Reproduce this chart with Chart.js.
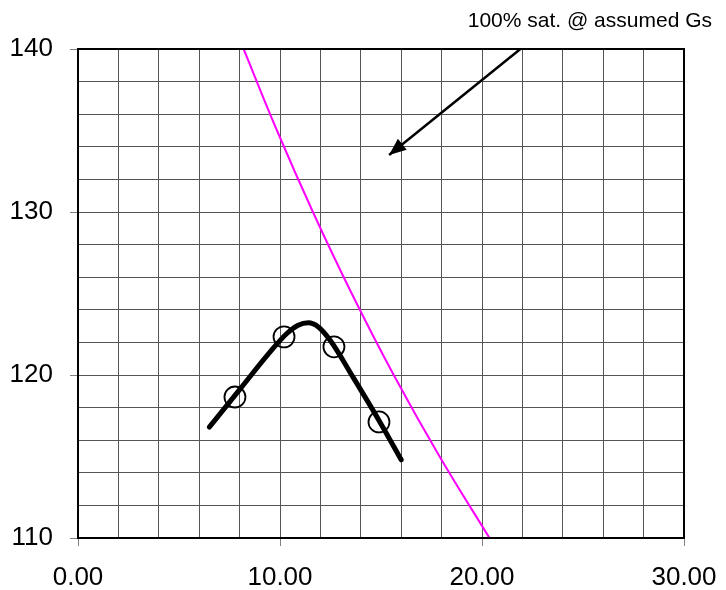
<!DOCTYPE html>
<html>
<head>
<meta charset="utf-8">
<script src="https://cdn.jsdelivr.net/npm/chart.js@4.4.1/dist/chart.umd.min.js"></script>
<style>
html, body { margin: 0; padding: 0; background: #fff; }
#wrap { width: 726px; height: 590px; }
</style>
</head>
<body>
<div id="wrap"><canvas id="c" width="726" height="590"></canvas></div>
<script>
// Moisture content (%) vs dry density (pcf)

// Zero-air-voids line (100% saturation)
const satWater   = [8.2, 9.85, 11.63, 13.55, 15.63, 17.9, 20.37];
const satDensity = [140, 135, 130, 125, 120, 115, 110];

// Fitted compaction curve
const curveWater   = [6.5, 8.0, 9.5, 10.3, 10.9, 11.4, 11.9, 12.5, 13.6, 15.0, 16.0];
const curveDensity = [116.8, 119.1, 121.4, 122.5, 123.05, 123.2, 122.95, 122.1, 119.9, 117.0, 114.8];

// Test points
const testWater   = [7.77, 10.2, 12.67, 14.9];
const testDensity = [118.65, 122.34, 121.73, 117.12];

// Pointer from the note to the saturation line
const arrowWater   = [21.9, 15.4];
const arrowDensity = [140, 133.5];

// Axis labels
const xTickValues = [0, 10, 20, 30];
const xTickLabels = ['0.00', '10.00', '20.00', '30.00'];
const yTickValues = [110, 120, 130, 140];
const yTickLabels = ['110', '120', '130', '140'];
const noteText = '100% sat. @ assumed Gs';

const FAMILY = '"Liberation Sans", Arial, sans-serif';
const pairs = (xs, ys) => xs.map((x, i) => ({ x: x, y: ys[i] }));
const ARROW_INDEX = 3;

const decorations = {
  id: 'decorations',
  afterDatasetsDraw(chart) {
    const ctx = chart.ctx;
    // arrowhead at the tip of the pointer line
    const pts = chart.getDatasetMeta(ARROW_INDEX).data;
    const a = pts[pts.length - 2], b = pts[pts.length - 1];
    const ang = Math.atan2(b.y - a.y, b.x - a.x);
    const len = 17, half = 7;
    const cx = Math.cos(ang), sy = Math.sin(ang);
    ctx.save();
    ctx.fillStyle = '#000';
    ctx.beginPath();
    ctx.moveTo(b.x, b.y);
    ctx.lineTo(b.x - len * cx + half * sy, b.y - len * sy - half * cx);
    ctx.lineTo(b.x - len * cx - half * sy, b.y - len * sy + half * cx);
    ctx.closePath();
    ctx.fill();

    // plot frame
    const { left, top, right, bottom } = chart.chartArea;
    ctx.strokeStyle = '#000';
    ctx.lineWidth = 2;
    ctx.strokeRect(left, top, right - left, bottom - top);

    // note text
    ctx.font = '21px ' + FAMILY;
    ctx.fillStyle = '#000';
    ctx.textAlign = 'right';
    ctx.textBaseline = 'alphabetic';
    ctx.fillText(noteText, chart.width - 14, 27);
    ctx.restore();
  }
};

const majorTickColor = c => (c.tick && xTickValues.concat(yTickValues).includes(c.tick.value)) ? '#808080' : 'rgba(0,0,0,0)';

new Chart(document.getElementById('c'), {
  type: 'scatter',
  data: {
    datasets: [
      {
        label: 'Tests',
        data: pairs(testWater, testDensity),
        showLine: false,
        pointStyle: 'circle',
        pointRadius: 10.5,
        pointBorderWidth: 1.8,
        pointBorderColor: '#000',
        pointBackgroundColor: 'rgba(0,0,0,0)',
        order: 0
      },
      {
        label: 'Compaction curve',
        data: pairs(curveWater, curveDensity),
        showLine: true,
        borderColor: '#000',
        borderWidth: 5,
        borderCapStyle: 'round',
        borderJoinStyle: 'round',
        cubicInterpolationMode: 'monotone',
        pointRadius: 0,
        order: 1
      },
      {
        label: '100% saturation',
        data: pairs(satWater, satDensity),
        showLine: true,
        borderColor: '#ff00ff',
        borderWidth: 2,
        tension: 0.4,
        pointRadius: 0,
        order: 3
      },
      {
        label: 'Pointer',
        data: pairs(arrowWater, arrowDensity),
        showLine: true,
        borderColor: '#000',
        borderWidth: 2.5,
        pointRadius: 0,
        order: 2
      }
    ]
  },
  options: {
    responsive: false,
    animation: false,
    events: [],
    layout: { padding: { top: 49, right: 42, left: 0, bottom: 0 } },
    plugins: {
      legend: { display: false },
      tooltip: { enabled: false },
      title: { display: false }
    },
    scales: {
      x: {
        type: 'linear',
        min: 0,
        max: 30,
        afterFit(s) { s.height = 52; s.paddingLeft = 0; s.paddingRight = 0; },
        border: { display: false },
        grid: {
          color: '#555',
          lineWidth: 1,
          drawTicks: true,
          tickLength: 8,
          tickWidth: 1,
          tickColor: majorTickColor
        },
        ticks: {
          stepSize: 2,
          autoSkip: false,
          maxRotation: 0,
          padding: 16,
          color: '#000',
          font: { family: FAMILY, size: 26 },
          callback: v => { const i = xTickValues.indexOf(v); return i >= 0 ? xTickLabels[i] : ''; }
        }
      },
      y: {
        type: 'linear',
        min: 110,
        max: 140,
        afterFit(s) { s.width = 78; s.paddingTop = 0; s.paddingBottom = 0; },
        border: { display: false },
        grid: {
          color: '#555',
          lineWidth: 1,
          drawTicks: true,
          tickLength: 8,
          tickWidth: 1,
          tickColor: majorTickColor
        },
        ticks: {
          stepSize: 2,
          autoSkip: false,
          padding: 17,
          color: '#000',
          font: { family: FAMILY, size: 26 },
          callback: v => { const i = yTickValues.indexOf(v); return i >= 0 ? yTickLabels[i] : ''; }
        }
      }
    }
  },
  plugins: [decorations]
});
</script>
</body>
</html>
